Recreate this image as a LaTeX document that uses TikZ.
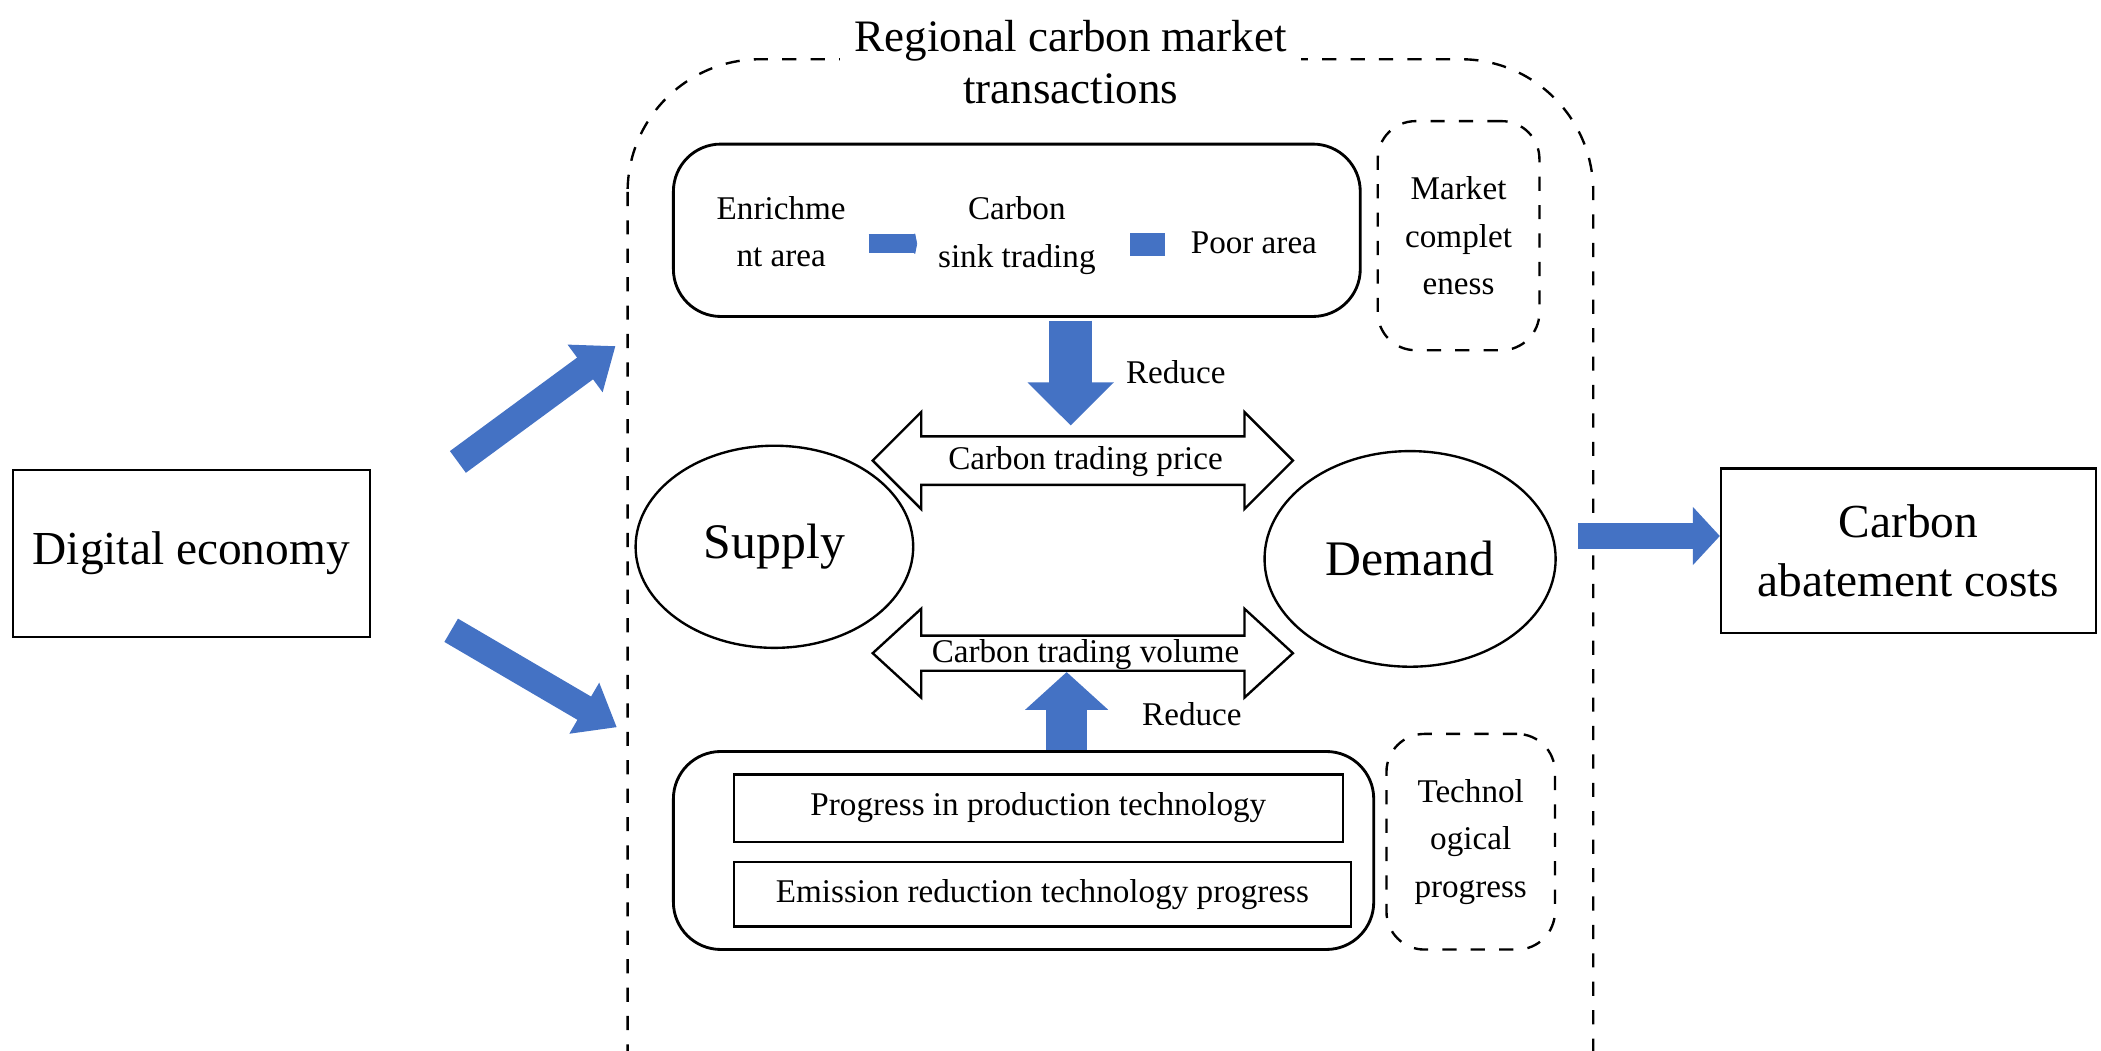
\documentclass[tikz,border=0pt]{standalone}
\usepackage{fontspec}
\setmainfont{Liberation Serif}
\usetikzlibrary{arrows.meta,shapes.geometric,shapes.arrows}
\definecolor{ablue}{HTML}{4472C4}
\begin{document}
\begin{tikzpicture}[x=0.01cm,y=-0.01cm,
  box/.style={draw,line width=0.5pt,inner sep=0pt},
  dbox/.style={draw,dashed,line width=0.5pt,rounded corners=8pt},
  lbl/.style={font=\fontsize{7pt}{10pt}\selectfont,align=center}]
\useasboundingbox (0,0) rectangle (1560,780);
% outer dashed
\draw[dashed,line width=0.5pt,rounded corners=28pt] (466,44) rectangle (1183,1032);
\node[fill=white,align=center,font=\fontsize{9.5pt}{11pt}\selectfont,inner sep=3pt] (title) at (795,46) {Regional carbon market\\transactions};
% side boxes
\node[box,minimum width=2.65cm,minimum height=1.24cm,font=\fontsize{10pt}{12pt}\selectfont] (de) at (142,411) {Digital economy};
\node[box,minimum width=2.78cm,minimum height=1.22cm,align=center,font=\fontsize{10pt}{12.5pt}\selectfont] (cac) at (1417,409) {Carbon\\abatement costs};
% top box
\draw[line width=0.6pt,rounded corners=10pt] (500,107) rectangle (1010,235);
\node[lbl] (enr) at (580,172) {Enrichme\\nt area};
\node[lbl] (sink) at (755,175) {Carbon\\sink trading};
\node[lbl] (poor) at (931,180) {Poor area};
\draw[draw=ablue,line width=0.14cm,-{Triangle[length=0.02cm,width=0.2cm]}] (645,181) -- (681,181);
\fill[ablue] (839,173) rectangle (865,190);
\node[dbox,minimum width=1.2cm,minimum height=1.7cm,lbl] (mc) at (1083,175) {Market\\complet\\eness};
% down arrow
\draw[draw=ablue,line width=0.32cm,-{Triangle[length=0.32cm,width=0.62cm]}] (795,238) -- (795,316);
\node[lbl] (r1) at (873,276) {Reduce};
% double arrows
\draw[line width=0.5pt] (648,342) -- (684,306) -- (684,324) -- (924,324) -- (924,306) -- (960,342) -- (924,378) -- (924,360) -- (684,360) -- (684,378) -- cycle;
\node[lbl] (price) at (806,343) {Carbon trading price};
\draw[line width=0.5pt] (648,485) -- (684,452) -- (684,472) -- (924,472) -- (924,452) -- (960,485) -- (924,518) -- (924,498) -- (684,498) -- (684,518) -- cycle;
\node[lbl] (vol) at (806,486) {Carbon trading volume};
% ellipses
\node[ellipse,draw,line width=0.5pt,minimum width=2.06cm,minimum height=1.5cm,font=\fontsize{10.5pt}{12pt}\selectfont] (sup) at (575,406) {Supply};
\node[ellipse,draw,line width=0.5pt,minimum width=2.16cm,minimum height=1.6cm,font=\fontsize{10.5pt}{12pt}\selectfont] (dem) at (1047,415) {Demand};
% up arrow
\draw[draw=ablue,line width=0.3cm,-{Triangle[length=0.28cm,width=0.6cm]}] (792,558) -- (792,499);
\node[lbl] (r2) at (885,530) {Reduce};
% bottom box
\draw[line width=0.6pt,rounded corners=10pt] (500,558) rectangle (1020,705);
\node[box,minimum width=4.52cm,minimum height=0.5cm,lbl] (pt) at (771,600) {Progress in production technology};
\node[box,minimum width=4.58cm,minimum height=0.48cm,lbl] (er) at (774,664) {Emission reduction technology progress};
\node[dbox,minimum width=1.25cm,minimum height=1.6cm,lbl] (tp) at (1092,625) {Technol\\ogical\\progress};
% blue arrows
\coordinate (a1s) at (340,343); \coordinate (a1e) at (457,257);
\coordinate (a2s) at (335,468); \coordinate (a2e) at (458,540);
\coordinate (a3s) at (1172,398); \coordinate (a3e) at (1277,398);
\draw[draw=ablue,line width=0.2cm,-{Triangle[length=0.28cm,width=0.42cm]}] (a1s) -- (a1e);
\draw[draw=ablue,line width=0.2cm,-{Triangle[length=0.28cm,width=0.42cm]}] (a2s) -- (a2e);
\draw[draw=ablue,line width=0.2cm,-{Triangle[length=0.2cm,width=0.42cm]}] (a3s) -- (a3e);
\end{tikzpicture}
\end{document}
